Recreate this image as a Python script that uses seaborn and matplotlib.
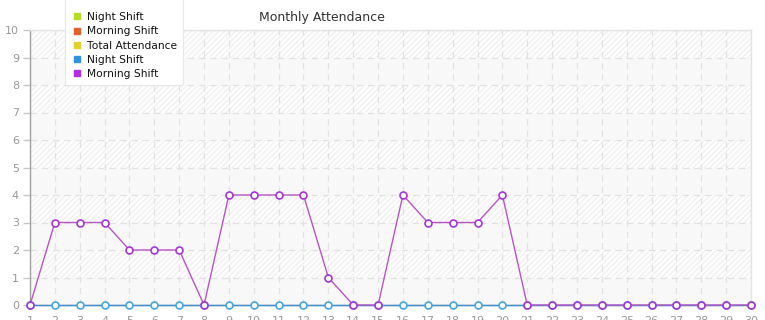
import matplotlib
matplotlib.use("Agg")
import matplotlib.pyplot as plt
from matplotlib.lines import Line2D
import seaborn as sns
import pandas as pd

days = list(range(1, 31))
morning_shift = [0, 3, 3, 3, 2, 2, 2, 0, 4, 4, 4, 4, 1, 0, 0,
                 4, 3, 3, 3, 4, 0, 0, 0, 0, 0, 0, 0, 0, 0, 0]
night_shift = [0] * 30
legend_labels = ["Night Shift", "Morning Shift", "Total Attendance", "Night Shift", "Morning Shift"]
legend_colors = ["#b8dc2a", "#e0622e", "#e2d02c", "#2f93e2", "#b22ee2"]
y_ticks = list(range(0, 11))

sns.set_theme(style="white")
plt.rcParams["font.family"] = ["DejaVu Sans"]
plt.rcParams["hatch.linewidth"] = 0.8

fig = plt.figure(figsize=(7.65, 3.2), dpi=100)
ax = fig.add_axes([30 / 765, 1 - 305 / 320, (751 - 30) / 765, (305 - 30) / 320])

# background bands
for lo in range(0, 10):
    if lo % 2 == 1:
        ax.axhspan(lo, lo + 1, facecolor="#fdfdfd", edgecolor="#efefef", hatch="//////", linewidth=0, zorder=0)
    else:
        ax.axhspan(lo, lo + 1, facecolor="#f8f8f8", edgecolor="none", linewidth=0, zorder=0)

df_n = pd.DataFrame({"day": days, "value": night_shift})
df_m = pd.DataFrame({"day": days, "value": morning_shift})

sns.lineplot(data=df_n, x="day", y="value", ax=ax, color="#3d8fd1", linewidth=1.0,
             marker="o", markersize=5, markerfacecolor="white", markeredgecolor="#45a6e0",
             markeredgewidth=1.2, zorder=3, clip_on=False)
sns.lineplot(data=df_m, x="day", y="value", ax=ax, color="#b855c4", linewidth=1.0,
             marker="o", markersize=5, markerfacecolor="white", markeredgecolor="#a436d8",
             markeredgewidth=1.2, zorder=4, clip_on=False)

ax.set_xlim(1, 30)
ax.set_ylim(0, 10)
ax.set_xticks(days)
ax.set_xticklabels([str(d) for d in days])
ax.set_yticks(y_ticks)
ax.set_xlabel("")
ax.set_ylabel("")

ax.grid(True, color="#e2e2e2", linestyle=(0, (5, 4)), linewidth=0.9, zorder=1)
ax.set_axisbelow(True)

for s in ["left", "bottom"]:
    ax.spines[s].set_color("#a0a0a0")
    ax.spines[s].set_linewidth(1.0)
for s in ["top", "right"]:
    ax.spines[s].set_color("#e4e4e4")
    ax.spines[s].set_linewidth(1.0)

ax.tick_params(axis="y", left=True, length=5, width=1, color="#c8c8c8", labelcolor="#999999",
               labelsize=8, pad=3)
ax.tick_params(axis="x", bottom=True, length=0, labelcolor="#999999", labelsize=8, pad=8)

fig.text(322 / 765, 1 - 17 / 320, "Monthly Attendance", ha="center", va="center",
         fontsize=9, color="#333333")

handles = [Line2D([0], [0], marker="s", linestyle="none", markersize=5,
                  markerfacecolor=c, markeredgecolor=c) for c in legend_colors]
leg = fig.legend(handles, legend_labels, loc="lower left",
                 bbox_to_anchor=(65 / 765, 1 - 85 / 320), fontsize=7.7, frameon=True,
                 handletextpad=0.35, labelspacing=0.4, borderpad=0.55, handlelength=1.2,
                 fancybox=True, framealpha=1.0, borderaxespad=0,
                 title=" ", title_fontsize=8)
leg.get_frame().set_edgecolor("#e8e8e8")
leg.get_frame().set_facecolor("white")
leg.get_frame().set_linewidth(0.8)
for t in leg.get_texts():
    t.set_color("#111111")

fig.savefig("out.png", dpi=100)
